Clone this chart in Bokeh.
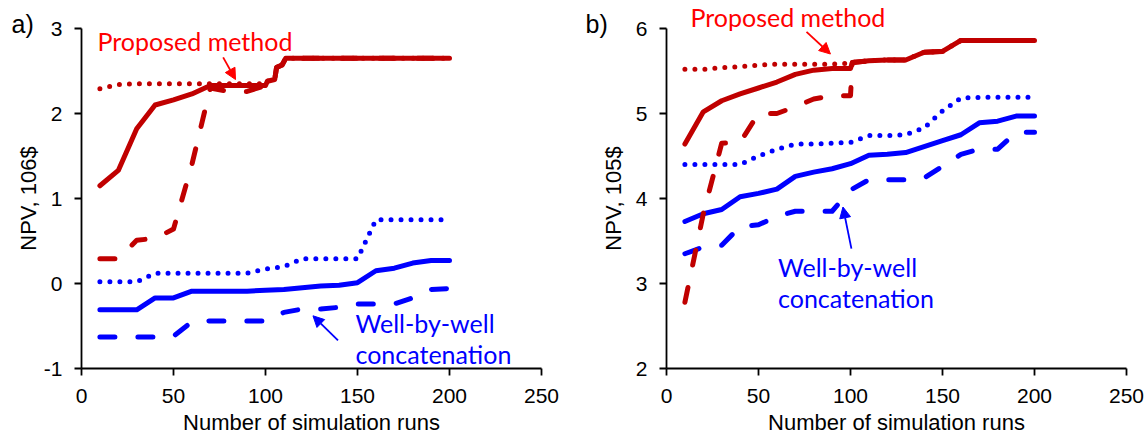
from bokeh.plotting import figure
from bokeh.models import Range1d, Label, Arrow, NormalHead, FixedTicker, LinearAxis
from bokeh.layouts import row
from bokeh.embed import file_html
from bokeh.resources import INLINE

# ---------------- data ----------------
runs = [10, 20, 30, 40, 50, 60, 70, 80, 90, 100, 110, 120, 130, 140, 150, 160, 170, 180, 190, 200]

# panel a) NPV, 10^6 $
a_wbw_solid = [-0.31, -0.31, -0.31, -0.17, -0.17, -0.09, -0.09, -0.09, -0.09, -0.08,
               -0.07, -0.05, -0.03, -0.02, 0.01, 0.15, 0.18, 0.24, 0.27, 0.27]
a_wbw_dotted = [0.02, 0.02, 0.02, 0.12, 0.12, 0.12, 0.12, 0.12, 0.12, 0.17,
                0.20, 0.29, 0.29, 0.29, 0.29, 0.75, 0.75, 0.75, 0.75, 0.75]
a_wbw_dashed = [-0.63, -0.63, -0.63, -0.63, -0.62, -0.45, -0.44, -0.44, -0.44, -0.44,
                -0.34, -0.30, -0.30, -0.28, -0.24, -0.24, -0.24, -0.17, -0.07, -0.06]

a_pm_runs = [10, 20, 30, 40, 50, 60, 70, 80, 90, 100, 101, 105, 106, 109, 111,
             120, 130, 140, 150, 160, 170, 180, 190, 200]
a_pm_solid = [1.15, 1.33, 1.82, 2.10, 2.16, 2.23, 2.33, 2.33, 2.33, 2.33, 2.38, 2.40, 2.54, 2.57, 2.65,
              2.65, 2.65, 2.65, 2.65, 2.65, 2.65, 2.65, 2.65, 2.65]
a_pm_dotted = [2.29, 2.34, 2.35, 2.35, 2.35, 2.35, 2.35, 2.35, 2.35, 2.35, 2.38, 2.40, 2.54, 2.57, 2.65,
               2.65, 2.65, 2.65, 2.65, 2.65, 2.65, 2.65, 2.65, 2.65]
a_pm_dashed = [0.29, 0.29, 0.51, 0.53, 0.64, 1.40, 2.30, 2.26, 2.26, 2.33, 2.38, 2.40, 2.54, 2.57, 2.65,
               2.65, 2.65, 2.65, 2.65, 2.65, 2.65, 2.65, 2.65, 2.65]

# panel b) NPV, 10^5 $
b_wbw_solid = [3.73, 3.82, 3.87, 4.02, 4.06, 4.11, 4.26, 4.31, 4.35, 4.41,
               4.51, 4.52, 4.54, 4.61, 4.68, 4.75, 4.89, 4.91, 4.97, 4.97]
b_wbw_dotted = [4.40, 4.40, 4.40, 4.40, 4.50, 4.58, 4.64, 4.64, 4.65, 4.66,
                4.74, 4.74, 4.75, 4.83, 5.03, 5.18, 5.19, 5.19, 5.19, 5.19]
b_wbw_dashed = [3.35, 3.43, 3.45, 3.67, 3.69, 3.79, 3.85, 3.85, 3.85, 4.10,
                4.22, 4.22, 4.22, 4.24, 4.38, 4.52, 4.58, 4.58, 4.78, 4.78]

b_pm_runs = [10, 20, 30, 40, 50, 60, 70, 80, 90, 100, 101,
             110, 120, 130, 140, 150, 160, 170, 180, 190, 200]
b_pm_solid = [4.64, 5.02, 5.15, 5.23, 5.30, 5.37, 5.46, 5.51, 5.53, 5.53, 5.60,
              5.62, 5.63, 5.63, 5.72, 5.73, 5.86, 5.86, 5.86, 5.86, 5.86]
b_pm_dotted = [5.52, 5.52, 5.54, 5.55, 5.57, 5.58, 5.58, 5.58, 5.58, 5.59, 5.60,
               5.62, 5.63, 5.63, 5.72, 5.73, 5.86, 5.86, 5.86, 5.86, 5.86]
b_pm_dashed = [2.78, 3.82, 4.65, 4.66, 5.00, 5.00, 5.08, 5.17, 5.21, 5.21, 5.60,
               5.62, 5.63, 5.63, 5.72, 5.73, 5.86, 5.86, 5.86, 5.86, 5.86]

x_ticks = [0, 50, 100, 150, 200, 250]
a_y_ticks = [-1, 0, 1, 2, 3]
b_y_ticks = [2, 3, 4, 5, 6]

RED = "#C00000"
BLUE = "#0000FF"
RED_TXT = "#FF0000"
BLUE_TXT = "#0000FF"
LW = 5
DOT = "0 10"
DASH = "15 23"
FONT = "Liberation Sans"
NOTE_FONT = "Lato"

PX_X = 1.84   # pixels per run
PX_Y = 85.0   # pixels per NPV unit


def panel(width, axis_px, y0, yticks, ylabel, label_standoff):
    p = figure(width=width, height=440, output_backend="svg", toolbar_location=None,
               x_range=Range1d(-axis_px / PX_X, (width - axis_px) / PX_X),
               y_range=Range1d(y0 - 72 / PX_Y, y0 + 4 + 28 / PX_Y),
               x_axis_type=None, y_axis_type=None,
               min_border=0, min_border_left=0, min_border_right=0,
               min_border_top=0, min_border_bottom=0)
    p.outline_line_color = None
    p.grid.visible = False
    p.background_fill_color = "white"
    p.border_fill_color = "white"
    xa = LinearAxis(fixed_location=y0, bounds=(0, 250), ticker=FixedTicker(ticks=x_ticks))
    ya = LinearAxis(fixed_location=0, bounds=(y0, y0 + 4), ticker=FixedTicker(ticks=yticks))
    for ax in (xa, ya):
        ax.axis_line_color = "black"
        ax.axis_line_width = 1.8
        ax.major_tick_line_color = "black"
        ax.major_tick_line_width = 1.8
        ax.major_tick_in = 0
        ax.major_tick_out = 7
        ax.minor_tick_line_color = None
        ax.major_label_text_font = FONT
        ax.major_label_text_font_size = "21px"
        ax.major_label_text_color = "black"
        ax.axis_label_text_font = FONT
        ax.axis_label_text_font_size = "22px"
        ax.axis_label_text_font_style = "normal"
        ax.axis_label_text_color = "black"
    xa.major_label_standoff = 13
    ya.major_label_standoff = 12
    ya.major_label_overrides = {t: str(t) for t in yticks}
    xa.axis_label = "Number of simulation runs"
    xa.axis_label_standoff = 4
    ya.axis_label = ylabel
    ya.axis_label_standoff = label_standoff
    p.add_layout(xa, "below")
    p.add_layout(ya, "left")
    return p


def curves(p, x_w, w_solid, w_dot, w_dash, x_p, p_solid, p_dot, p_dash):
    kw = dict(line_width=LW, line_cap="round", line_join="round")
    p.line(x_w, w_dash, line_color=BLUE, line_dash=DASH, **kw)
    p.line(x_w, w_dot, line_color=BLUE, line_dash=DOT, **kw)
    p.line(x_w, w_solid, line_color=BLUE, **kw)
    p.line(x_p, p_dash, line_color=RED, line_dash=DASH, **kw)
    p.line(x_p, p_dot, line_color=RED, line_dash=DOT, **kw)
    p.line(x_p, p_solid, line_color=RED, **kw)


def note(p, x, y, text, color, size="25px", font=NOTE_FONT):
    p.add_layout(Label(x=x, y=y, text=text, text_color=color, text_font=font,
                       text_font_size=size, text_align="left", text_baseline="alphabetic"))


def arrow(p, xs, ys, xe, ye, color):
    p.add_layout(Arrow(end=NormalHead(size=11, fill_color=color, line_color=color, line_width=1),
                       x_start=xs, y_start=ys, x_end=xe, y_end=ye,
                       line_color=color, line_width=1.8))


# ---------------- panel a ----------------
pa = panel(580, 81, -1, a_y_ticks, "NPV, 106$", 0)
curves(pa, runs, a_wbw_solid, a_wbw_dotted, a_wbw_dashed,
       a_pm_runs, a_pm_solid, a_pm_dotted, a_pm_dashed)
note(pa, 8.7, 2.858, "Proposed method", RED_TXT)
note(pa, 148.9, -0.462, "Well-by-well", BLUE_TXT)
note(pa, 148.9, -0.827, "concatenation", BLUE_TXT)
arrow(pa, 77.0, 2.66, 83.7, 2.40, RED_TXT)
arrow(pa, 139.4, -0.67, 125.8, -0.38, BLUE_TXT)
note(pa, -38.0, 3.058, "a)", "black", size="25px", font=FONT)

# ---------------- panel b ----------------
pb = panel(568, 86, 2, b_y_ticks, "NPV, 105$", 7)
curves(pb, runs, b_wbw_solid, b_wbw_dotted, b_wbw_dashed,
       b_pm_runs, b_pm_solid, b_pm_dotted, b_pm_dashed)
note(pb, 13.0, 6.138, "Proposed method", RED_TXT)
note(pb, 60.6, 3.192, "Well-by-well", BLUE_TXT)
note(pb, 60.6, 2.824, "concatenation", BLUE_TXT)
arrow(pb, 76.1, 5.96, 89.1, 5.70, RED_TXT)
arrow(pb, 100.5, 3.41, 95.9, 3.90, BLUE_TXT)
note(pb, -44.0, 6.058, "b)", "black", size="25px", font=FONT)

layout = row(pa, pb)
open("out.html", "w").write(file_html(layout, INLINE))
